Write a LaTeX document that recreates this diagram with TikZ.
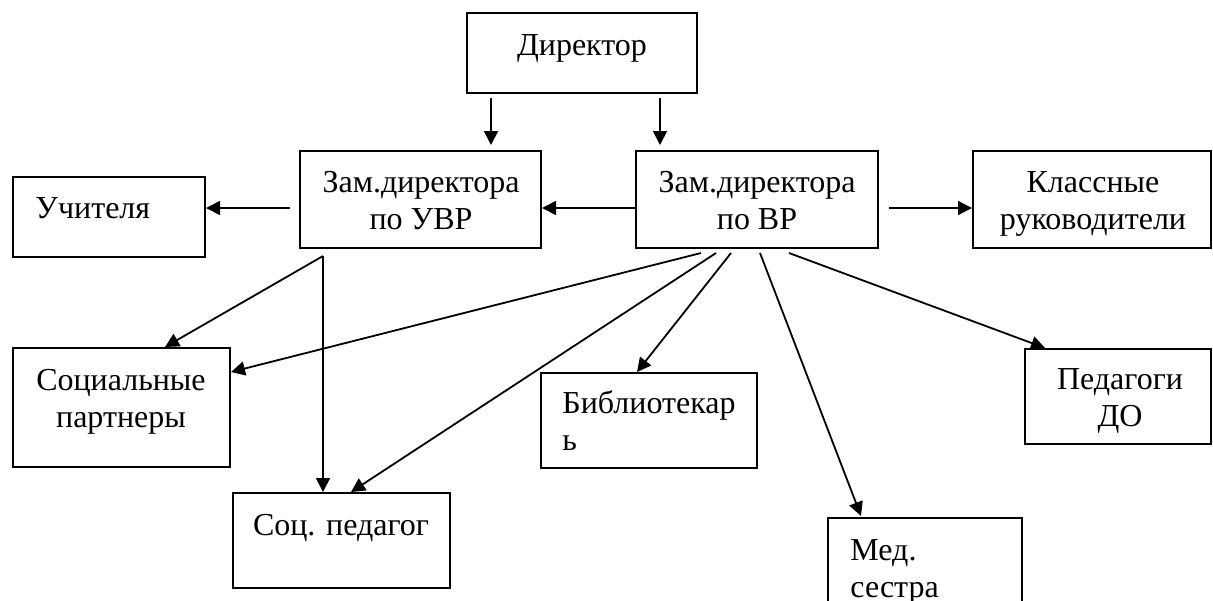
\documentclass[tikz,border=0pt]{standalone}
\usepackage{fontspec}
\setmainfont{Liberation Serif}
\usetikzlibrary{arrows.meta,calc}
\begin{document}
\begin{tikzpicture}[x=0.5pt,y=-0.5pt,
  box/.style={draw, line width=1pt, rectangle, inner sep=0pt},
  lbl/.style={font=\fontsize{16}{18.5}\selectfont, inner sep=0pt, align=center, anchor=north},
  lbll/.style={font=\fontsize{16}{18.5}\selectfont, inner sep=0pt, align=left, anchor=north west},
  arr/.style={line width=0.9pt, -{Triangle[length=7pt,width=7pt]}}]
\clip (0,0) rectangle (1213,600);
% boxes
\node[box, minimum width=115pt, minimum height=40pt] (dir) at (582,53) {};
\node[box, minimum width=120.5pt, minimum height=48.5pt] (uvr) at (420.5,199.5) {};
\node[box, minimum width=121pt, minimum height=48.5pt] (vr) at (757,199.5) {};
\node[box, minimum width=96.25pt, minimum height=40pt] (uch) at (108.75,217) {};
\node[box, minimum width=119pt, minimum height=48.5pt] (kl) at (1092,199.5) {};
\node[box, minimum width=108.5pt, minimum height=59.5pt] (soc) at (121.5,407.5) {};
\node[box, minimum width=108pt, minimum height=47.5pt] (bib) at (649,420.5) {};
\node[box, minimum width=93pt, minimum height=47.5pt] (ped) at (1118,396.5) {};
\node[box, minimum width=108.5pt, minimum height=47.5pt] (socped) at (341.5,540.5) {};
\node[box, minimum width=97pt, minimum height=61pt] (med) at (925,579) {};
% texts
\node[lbl] (tdir) at (582,31) {\rule{0pt}{12pt}Директор};
\node[lbl] (tuvr) at (421,168) {\rule{0pt}{12pt}Зам.директора\\по УВР};
\node[lbl] (tvr) at (757,168) {\rule{0pt}{12pt}Зам.директора\\по ВР};
\node[lbll] (tuch) at (35,194) {\rule{0pt}{12pt}Учителя};
\node[lbl] (tkl) at (1093,168) {\rule{0pt}{12pt}Классные\\руководители};
\node[lbl] (tsoc) at (121,366) {\rule{0pt}{12pt}Социальные\\партнеры};
\node[lbl] (tsocped) at (341,511) {\rule{0pt}{12pt}Соц. педагог};
\node[lbll] (tbib) at (562,389) {\rule{0pt}{12pt}Библиотекар\\ь};
\node[lbl] (tped) at (1120,365) {\rule{0pt}{12pt}Педагоги\\ДО};
\node[lbll] (tmed) at (850,536) {\rule{0pt}{12pt}Мед.\\сестра};
% connectors
\draw[arr] ($(dir.south west)+(25,4)$) -- ($(uvr.north west)+(192,-5)$);
\draw[arr] ($(dir.south west)+(194,4)$) -- ($(vr.north west)+(25,-5)$);
\draw[arr] ($(vr.west)+(0,8.5)$) -- ($(uvr.east)+(0,8.5)$);
\draw[arr] ($(uvr.west)+(-9,8.5)$) -- ($(uch.east)+(0,-9)$);
\draw[arr] ($(vr.east)+(10,8.5)$) -- ($(kl.west)+(0,8.5)$);
\draw[arr] ($(uvr.south west)+(24,7)$) -- ($(soc.north west)+(153,0)$);
\draw[arr] ($(uvr.south west)+(24,7)$) -- ($(socped.north west)+(91,0)$);
\draw[arr] ($(vr.south west)+(66,4)$) -- ($(soc.north east)+(0,25)$);
\draw[arr] ($(vr.south west)+(81,4)$) -- ($(socped.north west)+(119,0)$);
\draw[arr] ($(vr.south west)+(96,4)$) -- ($(bib.north west)+(97,0)$);
\draw[arr] ($(vr.south west)+(125,4)$) -- ($(med.north west)+(34,-1)$);
\draw[arr] ($(vr.south west)+(154,4)$) -- ($(ped.north west)+(21,0)$);
\end{tikzpicture}
\end{document}
